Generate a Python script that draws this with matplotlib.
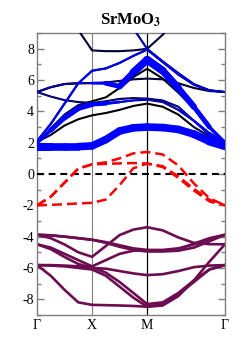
import matplotlib
matplotlib.use("Agg")
import matplotlib.pyplot as plt
import numpy as np
from matplotlib.collections import LineCollection
from matplotlib.ticker import MultipleLocator

plt.rcParams['font.family'] = ['Liberation Serif', 'DejaVu Serif']
plt.rcParams['mathtext.fontset'] = 'stix'
plt.rcParams['axes.unicode_minus'] = False

# k-path distance (G-X-M-G) and labels
kdist = [0, 0.25, 0.5, 0.75, 1.0, 1.25, 1.5, 1.75, 2.0, 2.283, 2.566, 2.849, 3.131, 3.414]
kticks = [0, 1.0, 2.0, 3.414]
klabels = ['Γ', 'X', 'M', 'Γ']

# O 2p bands (eV)
o2p_bands = [
    [-3.88, -3.92, -4.0, -4.1, -4.2, -4.35, -4.55, -4.75, -4.85, -4.85, -4.75, -4.5, -4.15, -3.88],
    [-3.88, -4.1, -4.5, -5.0, -5.29, -4.6, -3.9, -3.55, -3.4, -3.6, -4.05, -4.4, -4.48, -4.49],
    [-4.49, -4.7, -5.1, -5.5, -5.9, -5.5, -5.1, -4.9, -4.87, -4.9, -4.8, -4.45, -4.1, -3.88],
    [-4.49, -4.8, -5.3, -5.75, -6.0, -6.05, -6.2, -6.35, -6.46, -6.4, -6.2, -5.95, -5.85, -5.82],
    [-5.82, -5.82, -5.85, -5.9, -5.95, -6.3, -6.9, -7.6, -8.31, -8.2, -7.6, -6.8, -6.1, -5.82],
    [-5.82, -5.85, -5.9, -6.0, -6.1, -6.5, -7.2, -7.9, -8.48, -8.4, -7.8, -6.8, -5.6, -4.49],
    [-5.82, -6.5, -7.4, -8.2, -8.36, -8.38, -8.4, -8.43, -8.48, -8.3, -7.7, -6.9, -6.1, -5.82],
    [-3.88, -3.92, -4.0, -4.1, -4.2, -4.4, -4.65, -4.85, -4.95, -4.95, -4.9, -4.7, -4.3, -3.88],
]

# Mo t2g bands (eV)
t2g_bands = [
    [-2.0, -1.45, -0.55, 0.35, 0.62, 0.75, 1.0, 1.32, 1.41, 1.25, 0.55, -0.6, -1.55, -2.0],
    [-2.0, -1.45, -0.55, 0.35, 0.62, 0.65, 0.68, 0.7, 0.67, 0.5, -0.15, -0.95, -1.65, -2.0],
    [-2.0, -1.97, -1.93, -1.88, -1.84, -1.63, -0.71, 0.37, 0.67, 0.45, -0.25, -1.05, -1.75, -2.0],
]

# conduction bands (eV) and fat-band weights
cond_bands = [
    [1.75, 1.75, 1.75, 1.75, 1.8, 2.2, 2.75, 2.95, 3.0, 2.97, 2.85, 2.55, 2.1, 1.8],
    [2.0, 2.8, 3.6, 4.2, 4.45, 4.5, 4.6, 4.7, 4.75, 4.6, 4.1, 3.4, 2.6, 2.0],
    [2.05, 2.5, 3.1, 3.5, 3.75, 3.9, 4.1, 4.35, 4.5, 4.3, 3.8, 3.0, 2.4, 2.05],
    [2.1, 3.2, 4.5, 5.8, 6.6, 6.75, 7.1, 7.55, 7.95, 7.15, 6.35, 5.7, 5.35, 5.24],
    [5.24, 5.55, 5.75, 5.8, 5.81, 5.8, 5.6, 6.5, 7.3, 6.6, 5.5, 4.3, 3.0, 2.0],
    [5.24, 4.95, 4.72, 4.6, 4.54, 4.65, 4.8, 4.85, 4.82, 4.7, 4.3, 3.4, 2.5, 2.0],
    [2.0, 2.9, 3.8, 4.4, 4.65, 4.9, 5.5, 6.2, 6.73, 6.1, 5.2, 4.2, 3.0, 2.05],
    [12.5, 11.5, 10.5, 9.2, 7.9, 7.85, 7.85, 7.9, 8.0, 8.9, 10.0, 11.0, 12.0, 12.5],
    [13.0, 13.0, 12.8, 12.4, 12.0, 11.5, 10.5, 9.3, 8.0, 7.2, 6.45, 5.75, 5.35, 5.24],
    [5.24, 5.55, 5.75, 5.8, 5.81, 5.85, 5.95, 6.05, 6.1, 6.05, 5.8, 5.5, 5.3, 5.24],
]
cond_weights = [
    [6, 5.5, 5.5, 5.5, 5.5, 5.5, 5.5, 5.5, 5.5, 5.5, 5.5, 5.5, 6, 6.5],
    [2, 3, 4, 4, 3.5, 2.5, 1.5, 1, 0.8, 0.8, 1, 1.5, 2, 2.5],
    [0.5, 0.3, 0, 0, 0, 0, 0, 0, 0, 0, 0, 0.3, 0.6, 0.8],
    [1.5, 1.5, 1.5, 1.5, 1.5, 1.5, 1.5, 1.5, 1.5, 1.2, 1, 1, 1, 1],
    [0.8, 0.8, 0.8, 0.8, 1, 3, 4, 5, 6, 5.5, 5, 4, 3, 2],
    [0.6, 0.6, 0.6, 0.6, 0.6, 0.6, 0.6, 0.6, 0.6, 0.6, 0.8, 1, 1.2, 1.5],
    [0, 0, 0, 0, 0, 0, 0, 0, 0, 0, 0, 0.5, 1, 1.2],
    [0.3, 0.3, 0.3, 0.3, 0.3, 0.3, 0.3, 0.3, 0.3, 0.3, 0.3, 0.3, 0.3, 0.3],
    [1, 1, 1, 1, 1, 1, 1, 1, 1, 1, 1, 1, 1, 1],
    [0.3, 0.3, 0.3, 0.3, 0.3, 0.3, 0.3, 0.3, 0.3, 0.3, 0.3, 0.3, 0.3, 0.3],
]

purple = '#6b0d50'
edge = '#7f7f7f'

fig = plt.figure(figsize=(2.5, 3.53), dpi=100)
ax = fig.add_axes([0.148, 0.108, 0.752, 0.798])

for band in o2p_bands:
    ax.plot(kdist, band, color=purple, lw=1.9, zorder=2)

ax.axhline(0, color='black', lw=1.5, dashes=(3.3, 2.3), zorder=3)

for band in t2g_bands:
    ax.plot(kdist, band, color='red', lw=1.8, dashes=(4, 2), zorder=4)

for band in cond_bands:
    ax.plot(kdist, band, color='black', lw=1.5, zorder=5)

for band, w in zip(cond_bands, cond_weights):
    pts = np.column_stack([kdist, band])
    segs = np.stack([pts[:-1], pts[1:]], axis=1)
    widths = [(a + b) / 2 for a, b in zip(w[:-1], w[1:])]
    lc = LineCollection(segs, linewidths=widths, colors='#0000ff',
                        capstyle='round', joinstyle='round', zorder=6)
    ax.add_collection(lc)

ax.axvline(kticks[1], color=edge, lw=0.8, zorder=1)
ax.axvline(kticks[2], color='black', lw=0.9, zorder=1)

ax.set_xlim(kticks[0], kticks[-1])
ax.set_ylim(-9, 9)
ax.set_xticks(kticks)
ax.set_xticklabels(klabels, fontsize=10)
ax.set_yticks(np.arange(-8, 9, 2))
ax.set_yticklabels(['-8', '-6', '-4', '-2', '0', '2', '4', '6', '8'], fontsize=10)
ax.yaxis.set_minor_locator(MultipleLocator(1))
ax.tick_params(axis='y', which='major', direction='in', length=5, width=1,
               color=edge, left=True, right=True, pad=2)
ax.tick_params(axis='y', which='minor', direction='in', length=3, width=1,
               color=edge, left=True, right=True)
ax.tick_params(axis='x', length=0, pad=3)
for s in ax.spines.values():
    s.set_color(edge)
    s.set_linewidth(1.0)

ax.set_title(r'SrMoO$_\mathbf{3}$', fontsize=12, fontweight='bold', pad=6)

fig.savefig('out.png', dpi=100)
